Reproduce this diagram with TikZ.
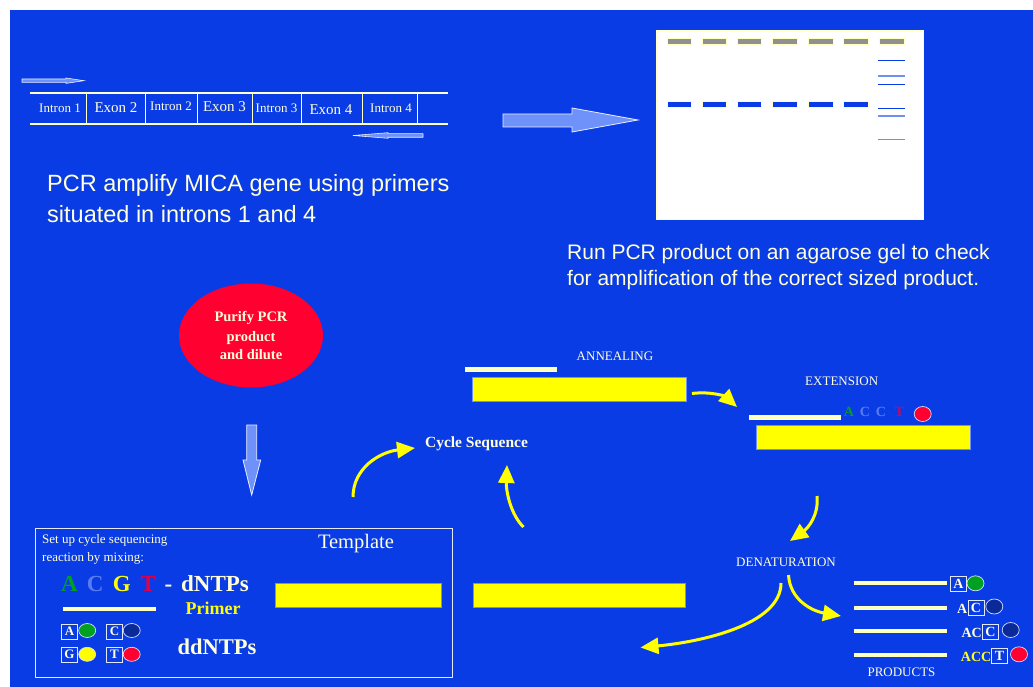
\documentclass[tikz,border=0pt]{standalone}
\usepackage{fontspec}
\setmainfont{Liberation Serif}
\newfontfamily\arialf{Liberation Sans}
\usetikzlibrary{arrows.meta,shapes.geometric}
\definecolor{bg}{HTML}{0A3CE6}
\definecolor{cream}{HTML}{FFFFD8}
\definecolor{creamline}{HTML}{FFFFC0}
\definecolor{yel}{HTML}{FFFF00}
\definecolor{arrowblue}{HTML}{6E92FA}
\definecolor{gelgrey}{HTML}{909090}
\definecolor{ladderlight}{HTML}{7090F0}
\definecolor{purifyred}{HTML}{FF0030}
\definecolor{darkball}{HTML}{0A2A9A}
\definecolor{nucA}{HTML}{00A020}
\definecolor{nucC}{HTML}{5A7CF0}
\definecolor{nucT}{HTML}{E0004A}
\newcommand{\fsz}[1]{\fontsize{#1}{#1}\selectfont}
\tikzset{
  txt/.style={text=cream, inner sep=0pt},
  genelbl/.style={txt, font=\fsz{13}},
  exonlbl/.style={txt, font=\fsz{15}},
  steplbl/.style={txt, font=\fsz{13}},
  strand/.style={creamline, line width=4pt},
  template/.style={fill=yel, draw=arrowblue, line width=0.6pt},
  cyclearrow/.style={yel, line width=3pt, -{Triangle[length=18pt,width=16pt]}},
  blockarrow/.style={fill=arrowblue, draw=white!85!arrowblue, line width=0.8pt},
  lbox/.style={draw=white!80!arrowblue, line width=0.8pt, text=cream, font=\bfseries\fsz{14},
    inner sep=0pt, minimum width=16pt, minimum height=15pt},
  ball/.style={draw=white!70!arrowblue, line width=0.7pt},
  nuc/.style={txt, font=\bfseries\fsz{23}, anchor=base},
}
\begin{document}
\begin{tikzpicture}[x=1pt,y=-1pt]
\useasboundingbox (0,0) rectangle (1033,687);
\fill[white] (0,0) rectangle (1033,687);
\fill[bg] (10,10) rectangle (1033,687);

% ---------- gene map with primers ----------
\draw[creamline, line width=2pt] (30,93) -- (448,93);
\draw[creamline, line width=2pt] (30,124) -- (448,124);
\foreach \x in {86,145,197,252,301,362,417}
  \draw[creamline, line width=0.8pt] (\x,94) -- (\x,123);
\node[genelbl] (in1) at (60,108) {Intron 1};
\node[exonlbl] (ex2) at (116,107.5) {Exon 2};
\node[genelbl] (in2) at (171,106) {Intron 2};
\node[exonlbl] (ex3) at (224.5,107) {Exon 3};
\node[genelbl] (in3) at (276.5,108) {Intron 3};
\node[exonlbl] (ex4) at (331,109.5) {Exon 4};
\node[genelbl] (in4) at (391,108) {Intron 4};
% forward and reverse primers
\draw[blockarrow, line width=0.6pt] (22,79) -- (66,79) -- (66,78) -- (84,80.7) -- (66,83.4) -- (66,82.4) -- (22,82.4) -- cycle;
\draw[blockarrow, line width=0.6pt] (423,133.7) -- (388,133.7) -- (388,132.7) -- (353,135.5) -- (388,138.3) -- (388,137.3) -- (423,137.3) -- cycle;

\node[txt, font=\arialf\fsz{23.5}, align=left, anchor=north west] (pcrtext) at (47,174)
  {PCR amplify MICA gene using primers\\[8pt]situated in introns 1 and 4};

% ---------- block arrow to gel ----------
\draw[blockarrow] (503,114) -- (572,114) -- (572,108) -- (638,120) -- (572,132) -- (572,127) -- (503,127) -- cycle;

% ---------- agarose gel ----------
\draw[fill=white, draw=creamline, line width=0.8pt] (656,30) rectangle (923,219);
\foreach \x/\w in {667/24,702/24,737/24,772/25,808/25,843/25,879/25}
  \draw[fill=gelgrey, draw=yel!25, line width=0.5pt] (\x,37.8) rectangle (\x+\w,43.8);
\foreach \x/\w in {667/24,702/24,737/24,772/25,808/25,843/25}
  \draw[fill=bg, draw=yel!25, line width=0.5pt] (\x,101.4) rectangle (\x+\w,107.6);
\foreach \y/\c in {60.3/bg,76/ladderlight,84.3/bg,108.3/bg,116/ladderlight,139.7/ladderlight}
  \draw[\c, line width=1.3pt] (878,\y) -- (905,\y);

\node[txt, font=\arialf\fsz{21}, align=left, anchor=north west] (geltext) at (567,244)
  {Run PCR product on an agarose gel to check\\[5pt]for amplification of the correct sized product.};

% ---------- purification ----------
\node[ellipse, fill=purifyred, minimum width=144pt, minimum height=104pt, inner sep=0pt,
  text=cream, font=\bfseries\fsz{14.5}, align=center] (purify) at (251,335.5)
  {Purify PCR\\[5pt]product\\[4pt]and dilute};
\draw[blockarrow] (246.7,425) -- (256.7,425) -- (256.7,460) -- (260.7,460) -- (251.7,495) -- (243,460) -- (246.7,460) -- cycle;

% ---------- reaction set-up box ----------
\draw[draw=white!90!bg, line width=1pt] (35,528) rectangle (452,677);
\node[txt, font=\fsz{13}, align=left, anchor=north west] (setup) at (42,534)
  {Set up cycle sequencing\\[5pt]reaction by mixing:};
\node[nuc, text=nucA] (dA) at (69.5,591) {A};
\node[nuc, text=nucC] (dC) at (95.3,591) {C};
\node[nuc, text=yel] (dG) at (121.7,591) {G};
\node[nuc, text=nucT] (dT) at (148.3,591) {T};
\node[nuc] (dash) at (168.5,591) {-};
\node[nuc, anchor=base west] (dntps) at (181,591) {dNTPs};
\draw[strand] (63,608.5) -- (156,608.5);
\node[txt, text=yel, font=\bfseries\fsz{18}] (primer) at (213,608) {Primer};
\node[lbox, font=\bfseries\fsz{13}] (bA) at (69.5,631.5) {A};
\draw[ball, fill=nucA] (87.2,630.5) ellipse [x radius=8.5, y radius=7];
\node[lbox, font=\bfseries\fsz{13}] (bC) at (114.5,631.5) {C};
\draw[ball, fill=darkball] (131.7,630.5) ellipse [x radius=8.5, y radius=7];
\node[lbox, font=\bfseries\fsz{13}] (bG) at (69.5,654.5) {G};
\draw[ball, fill=yel] (87.2,654.3) ellipse [x radius=8.5, y radius=7];
\node[lbox, font=\bfseries\fsz{13}] (bT) at (114.5,654.5) {T};
\draw[ball, fill=purifyred] (131.7,654.3) ellipse [x radius=8.5, y radius=7];
\node[txt, font=\bfseries\fsz{22.5}] (ddntps) at (217,647) {ddNTPs};
\node[txt, font=\fsz{20.5}] (templ) at (356,544) {Template};
\draw[template] (275,583.3) rectangle (441.5,607.5);

% ---------- cycle sequencing ----------
\draw[template] (473,583.3) rectangle (685.7,607.7);
\node[txt, font=\bfseries\fsz{15.5}] (cycle) at (476.5,443.5) {Cycle Sequence};

% annealing
\node[steplbl] (anneal) at (615,356.5) {ANNEALING};
\draw[creamline, line width=4.5pt] (465,369.7) -- (556.5,369.7);
\draw[template] (472.3,377.7) rectangle (686,401);

% extension
\node[steplbl] (extend) at (841.7,381) {EXTENSION};
\draw[creamline, line width=4.5pt] (749.3,417.5) -- (840.7,417.5);
\node[txt, text=nucA, font=\bfseries\fsz{14}] (eA) at (849,412) {A};
\node[txt, text=nucC, font=\bfseries\fsz{14}] (eC1) at (865,412) {C};
\node[txt, text=nucC, font=\bfseries\fsz{14}] (eC2) at (881,412) {C};
\node[txt, text=nucT, font=\bfseries\fsz{14}] (eT) at (899.5,412) {T};
\draw[ball, fill=purifyred] (922.7,414) ellipse [x radius=8.5, y radius=7.5];
\draw[template] (756.7,425) rectangle (970,449.3);

% denaturation and products
\node[steplbl] (denat) at (786,562.3) {DENATURATION};
\node[steplbl] (prods) at (901.5,672.7) {PRODUCTS};
\foreach \y in {583.3,607.7,630.7,654.7}
  \draw[strand] (854,\y) -- (946.7,\y);
\node[lbox] (p1A) at (958.3,584) {A};
\draw[ball, fill=nucA] (975.5,583.3) ellipse [x radius=8.5, y radius=7.5];
\node[lbox] (p2C) at (976,607.7) {C};
\node[txt, font=\bfseries\fsz{14}, anchor=east] (p2A) at (967.5,608.5) {A};
\draw[ball, fill=darkball] (994.3,606.5) ellipse [x radius=8.5, y radius=7.5];
\node[lbox] (p3C) at (990.3,631.7) {C};
\node[txt, font=\bfseries\fsz{14}, anchor=east] (p3A) at (982,632.5) {AC};
\draw[ball, fill=darkball] (1010.7,630) ellipse [x radius=8.5, y radius=7.5];
\node[lbox] (p4T) at (999.5,656) {T};
\node[txt, text=yel!85!cream, font=\bfseries\fsz{14}, anchor=east] (p4A) at (991.5,656.5) {ACC};
\draw[ball, fill=purifyred] (1019,654.3) ellipse [x radius=8.5, y radius=7.5];

% ---------- curved process arrows ----------
\coordinate (annOut) at (692,393.5);
\coordinate (extIn) at (737,407);
\coordinate (extOut) at (817,496);
\coordinate (denIn) at (790,541);
\coordinate (denL) at (781,583);
\coordinate (tmplIn) at (640.5,647.5);
\coordinate (denR) at (788.5,575);
\coordinate (prodIn) at (841,616);
\coordinate (setupOut) at (353,497);
\coordinate (cycleInL) at (415,448);
\coordinate (tmplOut) at (523.5,527);
\coordinate (cycleInR) at (507,465);

\draw[cyclearrow] (annOut) .. controls (712,391) and (726,397) .. (extIn);
\draw[cyclearrow] (extOut) .. controls (819,515) and (808,528) .. (denIn);
\draw[cyclearrow] (denL) .. controls (781,625) and (700,642) .. (tmplIn);
\draw[cyclearrow] (denR) .. controls (790,600) and (812,611) .. (prodIn);
\draw[cyclearrow] (setupOut) .. controls (353,468) and (380,452) .. (cycleInL);
\draw[cyclearrow] (tmplOut) .. controls (511,515) and (506,492) .. (cycleInR);
\end{tikzpicture}
\end{document}
